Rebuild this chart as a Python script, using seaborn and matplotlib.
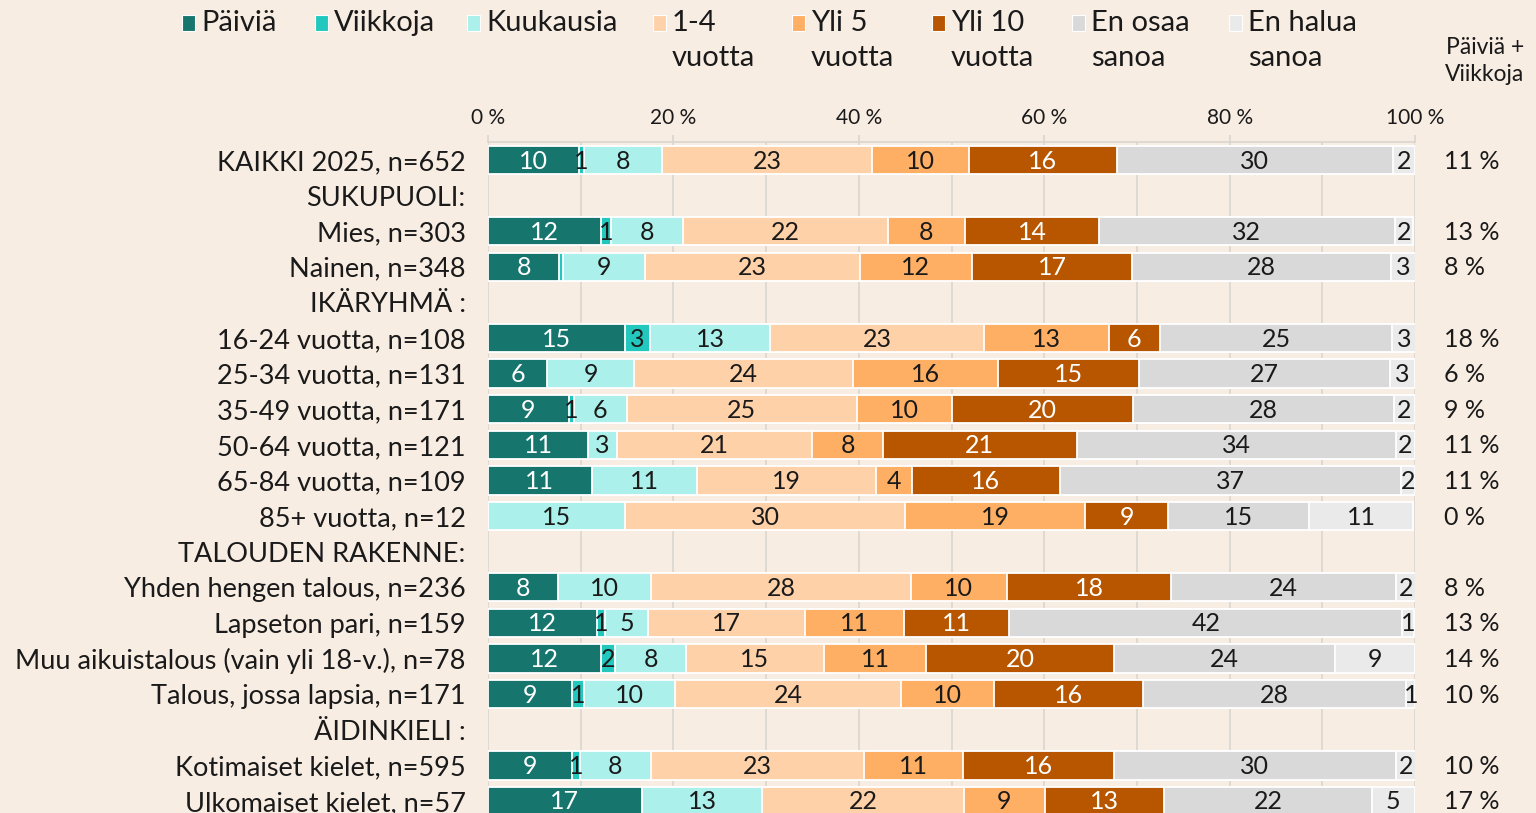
import matplotlib
matplotlib.use("Agg")
import matplotlib.pyplot as plt
from matplotlib.patches import Rectangle
import numpy as np
import pandas as pd
import seaborn as sns

BG = "#F8EDE3"
GRID = "#D9D5D0"
TXT = "#1A1A1A"

# ---------------------------------------------------------------- data
rows = [
    "KAIKKI 2025, n=652", "SUKUPUOLI:", "Mies, n=303", "Nainen, n=348",
    "IKÄRYHMÄ :", "16-24 vuotta, n=108", "25-34 vuotta, n=131",
    "35-49 vuotta, n=171", "50-64 vuotta, n=121", "65-84 vuotta, n=109",
    "85+ vuotta, n=12", "TALOUDEN RAKENNE:", "Yhden hengen talous, n=236",
    "Lapseton pari, n=159", "Muu aikuistalous (vain yli 18-v.), n=78",
    "Talous, jossa lapsia, n=171", "ÄIDINKIELI :", "Kotimaiset kielet, n=595",
    "Ulkomaiset kielet, n=57",
]
series = ["Päiviä", "Viikkoja", "Kuukausia", "1-4\nvuotta", "Yli 5\nvuotta",
          "Yli 10\nvuotta", "En osaa\nsanoa", "En halua\nsanoa"]
colors = ["#16766E", "#22C8BE", "#ABF0EA", "#FFD1A9", "#FFAF64",
          "#B85600", "#D9D9D9", "#EAEAEA"]
white_text = [True, False, False, False, False, True, False, False]

N = None
paivia    = [9.8, N, 12.2, 7.7, N, 14.8, 6.4, 8.7, 10.8, 11.2, 0.0, N, 7.6, 11.8, 12.2, 9.1, N, 9.1, 16.6]
viikkoja  = [0.6, N, 1.1, 0.4, N, 2.7, 0.0, 0.6, 0.0, 0.0, 0.0, N, 0.0, 0.85, 1.5, 1.25, N, 0.8, 0.0]
kuukausia = [8.35, N, 7.7, 8.8, N, 12.9, 9.4, 5.65, 3.1, 11.3, 14.8, N, 10.0, 4.6, 7.7, 9.8, N, 7.7, 13.0]
v1_4      = [22.7, N, 22.1, 23.2, N, 23.15, 23.6, 24.85, 21.1, 19.4, 30.2, N, 28.0, 16.9, 14.8, 24.4, N, 23.0, 21.7]
yli5      = [10.45, N, 8.4, 12.1, N, 13.4, 15.6, 10.2, 7.6, 3.8, 19.4, N, 10.4, 10.7, 11.1, 10.0, N, 10.6, 8.75]
yli10     = [15.9, N, 14.4, 17.3, N, 5.5, 15.2, 19.6, 20.9, 16.0, 9.0, N, 17.7, 11.4, 20.2, 16.1, N, 16.3, 12.9]
en_osaa   = [29.8, N, 31.9, 27.9, N, 25.1, 27.1, 28.15, 34.4, 36.75, 15.2, N, 24.2, 42.4, 23.9, 28.4, N, 30.4, 22.4]
en_halua  = [2.45, N, 2.0, 2.7, N, 2.6, 2.7, 2.25, 2.05, 1.6, 11.2, N, 2.2, 1.2, 8.6, 1.0, N, 2.2, 4.6]
paiv_viik = [11, N, 13, 8, N, 18, 6, 9, 11, 11, 0, N, 8, 13, 14, 10, N, 10, 17]

ticks = [0, 20, 40, 60, 80, 100]
tick_labels = ["0 %", "20 %", "40 %", "60 %", "80 %", "100 %"]

# ---------------------------------------------------------------- figure
sns.set_theme(style="white")
plt.rcParams["font.family"] = ["Lato", "DejaVu Sans"]
plt.rcParams["text.color"] = TXT

vals = pd.DataFrame(
    {s: v for s, v in zip(series, [paivia, viikkoja, kuukausia, v1_4, yli5,
                                   yli10, en_osaa, en_halua])},
    index=rows, dtype=float)
cum = vals.cumsum(axis=1)

fig = plt.figure(figsize=(15.36, 8.13), dpi=100, facecolor=BG)
ax = fig.add_axes([488 / 1536, 0, (1415 - 488) / 1536, 1 - 142 / 813])
ax.set_facecolor(BG)

# stacked bars: draw cumulative totals from the widest to the narrowest
for k in reversed(range(len(series))):
    d = pd.DataFrame({"row": rows, "val": cum.iloc[:, k].values})
    sns.barplot(data=d, x="val", y="row", order=rows, orient="h",
                color=colors[k], saturation=1, width=0.8, errorbar=None,
                edgecolor="white", linewidth=1.3, ax=ax, zorder=3)

# segment labels
for i, r in enumerate(rows):
    if vals.loc[r].isna().all():
        continue
    left = 0.0
    for k, s in enumerate(series):
        v = vals.loc[r, s]
        if round(v) >= 1:
            ax.text(left + v / 2, i + 0.03, f"{round(v):d}", ha="center",
                    va="center", fontsize=18,
                    color="white" if white_text[k] else TXT, zorder=5)
        left += v

# right column
for i, pv in enumerate(paiv_viik):
    if pv is None:
        continue
    ax.text(103.1, i + 0.03, f"{pv} %", ha="left", va="center", fontsize=18,
            color=TXT, clip_on=False)
fig.text(1485 / 1536, 1 - 61 / 813, "Päiviä +\nViikkoja", ha="center",
         va="center", fontsize=16.5, linespacing=1.3, color=TXT)

# axes styling
ax.set_xlim(0, 100)
ax.set_ylim(18.34, -0.505)
ax.set_xlabel("")
ax.set_ylabel("")
ax.xaxis.tick_top()
ax.set_xticks(ticks)
ax.set_xticklabels(tick_labels, fontsize=15)
ax.set_xticks(np.arange(0, 101, 10), minor=True)
ax.tick_params(axis="x", which="major", direction="out", length=5,
               color=GRID, width=1.2, pad=5, labelcolor=TXT)
ax.tick_params(axis="x", which="minor", length=0)
ax.tick_params(axis="y", length=0, pad=16, labelsize=19.5, labelcolor=TXT)
ax.grid(axis="x", which="both", color=GRID, linewidth=1.2, zorder=0)
ax.set_axisbelow(True)
for side in ["right", "bottom", "left"]:
    ax.spines[side].set_visible(False)
ax.spines["top"].set_color(GRID)
ax.spines["top"].set_linewidth(1.2)

# legend across the top
leg_x = [201, 334, 486, 672, 811, 951, 1091, 1248]
for x, lab, c in zip(leg_x, series, colors):
    fig.patches.append(Rectangle(((x - 19) / 1536, 1 - 31 / 813), 13 / 1536,
                                 16 / 813, transform=fig.transFigure,
                                 facecolor=c, edgecolor="white", linewidth=0.8))
    fig.text(x / 1536, 1 - 10 / 813, lab, ha="left", va="top", fontsize=21,
             linespacing=1.42, color=TXT)

fig.savefig("out.png", dpi=100, facecolor=BG)
